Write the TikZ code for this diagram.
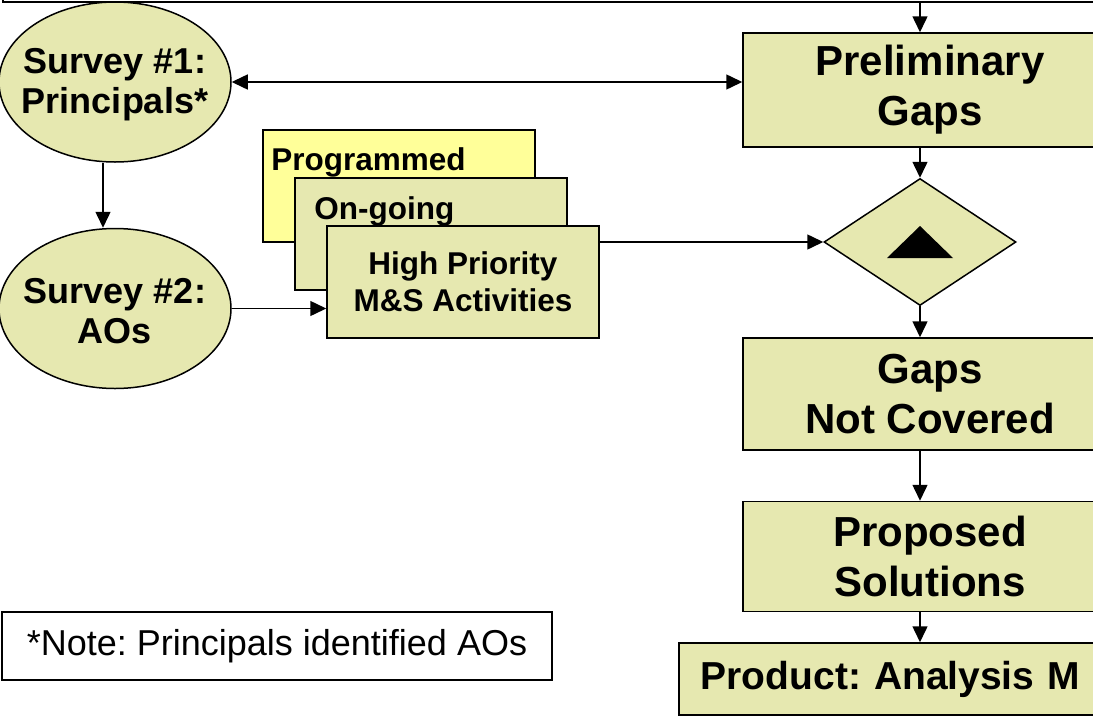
\documentclass[tikz,border=0pt]{standalone}
\usepackage{fontspec}
\setmainfont{Liberation Sans}
\frenchspacing
\usetikzlibrary{positioning,calc,shapes.geometric,arrows.meta}
\definecolor{khaki}{RGB}{230,232,176}
\definecolor{paleyellow}{RGB}{255,255,153}

\begin{document}
\begin{tikzpicture}[x=1pt,y=-1pt,
    box/.style={rectangle,draw,line width=1.5pt,fill=khaki,inner sep=0pt,align=center,minimum width=374pt,minimum height=112pt,font=\bfseries\fontsize{42}{50}\selectfont},
    survey/.style={ellipse,draw,line width=1.5pt,fill=khaki,inner sep=0pt,minimum width=232pt,minimum height=160pt},
    surveytext/.style={align=center,inner sep=0pt,yshift=-3pt,font=\bfseries\fontsize{36}{40}\selectfont},
    stack/.style={rectangle,draw,line width=1.5pt,fill=khaki,inner sep=0pt,align=center,minimum width=272pt,minimum height=112pt,font=\bfseries\fontsize{31.5}{37}\selectfont},
    stacklabel/.style={anchor=north west,inner sep=0pt,font=\bfseries\fontsize{31.5}{37}\selectfont},
    link/.style={line width=1.5pt,-{Triangle[length=16pt,width=15pt]}}]
        \useasboundingbox (0,0) rectangle (1093,718);
        \clip (0,0) rectangle (1093,718);
        \coordinate (sp) at (920,0);

        \node[draw,line width=1.5pt,inner sep=0pt,minimum width=1094pt,minimum height=84pt] (top) at (550,-40) {};
        \node[survey,label={[surveytext]center:Survey \#1:\\Principals*}] (s1) at (115,82) {};
        \node[survey,label={[surveytext]center:Survey \#2:\\AOs}] (s2) [below=65pt of s1] {};

        \node[stack,fill=paleyellow,label={[stacklabel,xshift=9pt,yshift=-18pt]north west:Programmed}] (prog) at (399,186) {};
        \node[stack,label={[stacklabel,xshift=20pt,yshift=-19pt]north west:On-going}] (ong) at ($(prog)+(32,48)$) {};
        \node[stack] (hp) at ($(ong)+(32,48)$) {High Priority\\M\&S Activities};

        \node[box,minimum height=114pt] (pg) at (930,90) {Preliminary\\Gaps};
        \node[diamond,draw,line width=1.5pt,fill=khaki,inner sep=0pt,aspect=1.5,minimum width=192pt,minimum height=127pt] (dm) at (920,242) {};
        \node[box] (gnc) at (930,394) {Gaps\\Not Covered};
        \node[box,minimum height=110pt] (ps) [below=50pt of gnc] {Proposed\\Solutions};
        \node[box,anchor=west,minimum width=500pt,minimum height=72pt,inner xsep=22pt,text width=456pt,align=left,font=\bfseries\fontsize{39}{46}\selectfont] (prod) at (678,679) {Product: Analysis M};
        \node[draw,line width=1.5pt,inner sep=0pt,minimum width=550pt,minimum height=68pt,font=\fontsize{36}{40}\selectfont] (note) at (277,646) {*Note: Principals identified AOs};

        \fill ($(dm.center)+(-33,16)$) -- ($(dm.center)+(0,-16)$) -- ($(dm.center)+(33,16)$) -- cycle;

        % connectors
        \draw[link] (top.south -| sp) -- (pg.north -| sp);
        \draw[link,{Triangle[length=16pt,width=15pt]}-{Triangle[length=16pt,width=15pt]}] (s1.east) -- (s1.east -| pg.west);
        \draw[link] ([xshift=-12pt]s1.south) -- ([xshift=-12pt]s2.north);
        \draw[link] (s2.east) -- (s2.east -| hp.west);
        \draw[link] (hp.east |- dm.west) -- (dm.west);
        \draw[link] (pg.south -| sp) -- (dm.north);
        \draw[link] (dm.south) -- (gnc.north -| sp);
        \draw[link] (gnc.south -| sp) -- (ps.north -| sp);
        \draw[link] (ps.south -| sp) -- (prod.north -| sp);
\end{tikzpicture}
\end{document}
